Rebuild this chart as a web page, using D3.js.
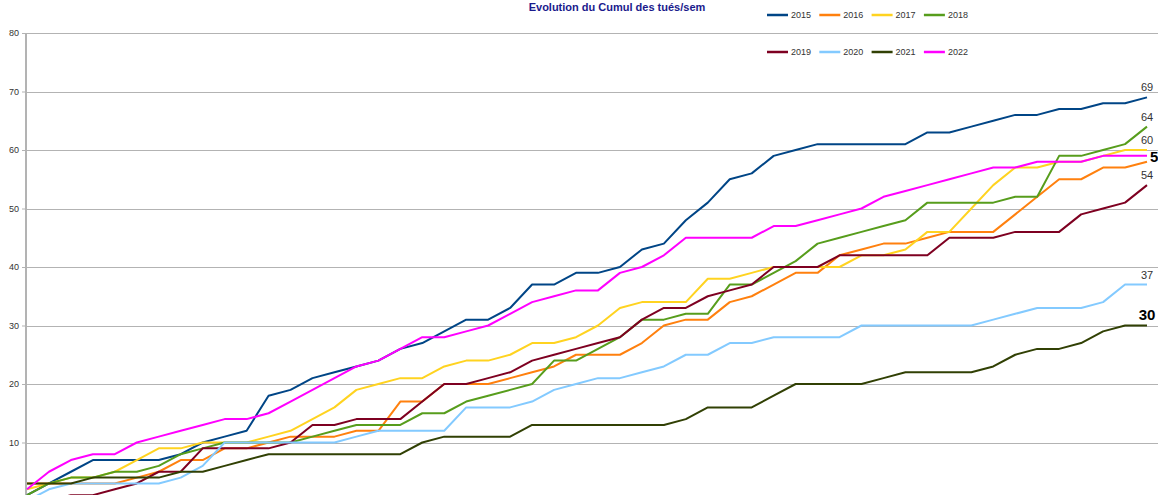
<!DOCTYPE html>
<html>
<head>
<meta charset="utf-8">
<script src="https://cdn.jsdelivr.net/npm/d3@7"></script>
<style>
  body { margin: 0; background: #fff; }
  svg { display: block; font-family: "Liberation Sans", Arial, sans-serif; }
</style>
</head>
<body>
<div id="chart"></div>
<script>
const width = 1158;
const height = 495;

// weekly cumulative counts, weeks 1..52
const weeks = d3.range(1, 53);
const years = ["2015", "2016", "2017", "2018", "2019", "2020", "2021", "2022"];
const colors = ["#004586", "#ff800e", "#ffd320", "#579d1c", "#7e0021", "#83caff", "#314004", "#ff00ff"];

const s2015 = [1, 3, 5, 7, 7, 7, 7, 8, 10, 11, 12, 18, 19, 21, 22, 23, 24, 26, 27, 29, 31, 31, 33, 37, 37, 39,
               39, 40, 43, 44, 48, 51, 55, 56, 59, 60, 61, 61, 61, 61, 61, 63, 63, 64, 65, 66, 66, 67, 67, 68, 68, 69];
const s2016 = [3, 3, 3, 3, 3, 4, 5, 7, 7, 9, 9, 10, 11, 11, 11, 12, 12, 17, 17, 20, 20, 20, 21, 22, 23, 25,
               25, 25, 27, 30, 31, 31, 34, 35, 37, 39, 39, 42, 43, 44, 44, 45, 46, 46, 46, 49, 52, 55, 55, 57, 57, 58];
const s2017 = [2, 3, 4, 4, 5, 7, 9, 9, 10, 10, 10, 11, 12, 14, 16, 19, 20, 21, 21, 23, 24, 24, 25, 27, 27, 28,
               30, 33, 34, 34, 34, 38, 38, 39, 40, 40, 40, 40, 42, 42, 43, 46, 46, 50, 54, 57, 57, 58, 58, 59, 60, 60];
const s2018 = [1, 3, 4, 4, 5, 5, 6, 8, 9, 10, 10, 10, 10, 11, 12, 13, 13, 13, 15, 15, 17, 18, 19, 20, 24, 24,
               26, 28, 31, 31, 32, 32, 37, 37, 39, 41, 44, 45, 46, 47, 48, 51, 51, 51, 51, 52, 52, 59, 59, 60, 61, 64];
const s2019 = [0, 0, 1, 1, 2, 3, 5, 5, 9, 9, 9, 9, 10, 13, 13, 14, 14, 14, 17, 20, 20, 21, 22, 24, 25, 26,
               27, 28, 31, 33, 33, 35, 36, 37, 40, 40, 40, 42, 42, 42, 42, 42, 45, 45, 45, 46, 46, 46, 49, 50, 51, 54];
const s2020 = [0, 2, 3, 3, 3, 3, 3, 4, 6, 10, 10, 10, 10, 10, 10, 11, 12, 12, 12, 12, 16, 16, 16, 17, 19, 20,
               21, 21, 22, 23, 25, 25, 27, 27, 28, 28, 28, 28, 30, 30, 30, 30, 30, 30, 31, 32, 33, 33, 33, 34, 37, 37];
const s2021 = [3, 3, 3, 4, 4, 4, 4, 5, 5, 6, 7, 8, 8, 8, 8, 8, 8, 8, 10, 11, 11, 11, 11, 13, 13, 13,
               13, 13, 13, 13, 14, 16, 16, 16, 18, 20, 20, 20, 20, 21, 22, 22, 22, 22, 23, 25, 26, 26, 27, 29, 30, 30];
const s2022 = [2, 5, 7, 8, 8, 10, 11, 12, 13, 14, 14, 15, 17, 19, 21, 23, 24, 26, 28, 28, 29, 30, 32, 34, 35, 36,
               36, 39, 40, 42, 45, 45, 45, 45, 47, 47, 48, 49, 50, 52, 53, 54, 55, 56, 57, 57, 58, 58, 58, 59, 59, 59];

const seriesValues = [s2015, s2016, s2017, s2018, s2019, s2020, s2021, s2022];
const yTicks = [10, 20, 30, 40, 50, 60, 70, 80];

// end labels: which series get one, and which are bold
const labelled = ["2015", "2017", "2018", "2019", "2020", "2021", "2022"];
const boldLabels = ["2021", "2022"];

const series = years.map((y, i) => ({ year: y, color: colors[i], values: seriesValues[i] }));

const svg = d3.select("#chart").append("svg")
    .attr("width", width)
    .attr("height", height);

const x = d3.scalePoint()
    .domain(weeks)
    .range([27, 1147]);

const y = d3.scaleLinear()
    .domain([0, 80])
    .range([501, 33]);

// grid lines
svg.append("g")
    .selectAll("line")
    .data(yTicks)
    .join("line")
    .attr("x1", 26)
    .attr("x2", width)
    .attr("y1", d => Math.round(y(d)) + 0.5)
    .attr("y2", d => Math.round(y(d)) + 0.5)
    .attr("stroke", "#b3b3b3")
    .attr("stroke-width", 1);

// y axis
const yAxis = svg.append("g")
    .attr("transform", "translate(26,0)")
    .call(d3.axisLeft(y).tickValues(yTicks).tickSize(4).tickPadding(3));
yAxis.select(".domain").attr("stroke", "#b3b3b3").attr("stroke-width", 2)
    .attr("d", `M0,${y(80)}V${height}`);
yAxis.selectAll(".tick line").attr("stroke", "#b3b3b3");
yAxis.selectAll(".tick text")
    .attr("fill", "#333")
    .style("font-size", "9px")
    .style("font-family", "Liberation Sans, Arial, sans-serif");

// lines
const line = d3.line()
    .x((d, i) => x(weeks[i]))
    .y(d => y(d));

svg.append("g")
    .selectAll("path")
    .data(series)
    .join("path")
    .attr("fill", "none")
    .attr("stroke", d => d.color)
    .attr("stroke-width", 2)
    .attr("stroke-linejoin", "round")
    .attr("d", d => line(d.values));

// end labels
const last = weeks.length - 1;
svg.append("g")
    .selectAll("text")
    .data(series.filter(d => labelled.includes(d.year)))
    .join("text")
    .attr("x", d => d.year === "2022" ? x(weeks[last]) + 3 : x(weeks[last]))
    .attr("y", d => d.year === "2022" ? y(d.values[last]) + 6 : y(d.values[last]) - 6)
    .attr("text-anchor", d => d.year === "2022" ? "start" : "middle")
    .attr("fill", d => boldLabels.includes(d.year) ? "#000" : "#333")
    .style("font-size", d => boldLabels.includes(d.year) ? "15px" : "11px")
    .style("font-weight", d => boldLabels.includes(d.year) ? "bold" : "normal")
    .text(d => d.values[last]);

// title
svg.append("text")
    .attr("x", 617)
    .attr("y", 11)
    .attr("text-anchor", "middle")
    .attr("fill", "#1a1a8c")
    .style("font-size", "11px")
    .style("font-weight", "bold")
    .text("Evolution du Cumul des tués/sem");

// legend, two rows of four
const legend = svg.append("g")
    .selectAll("g")
    .data(series)
    .join("g")
    .attr("transform", (d, i) => `translate(${767 + (i % 4) * 52.3},${i < 4 ? 15 : 52})`);

legend.append("line")
    .attr("x1", 0)
    .attr("x2", 21)
    .attr("stroke", d => d.color)
    .attr("stroke-width", 2.5);

legend.append("text")
    .attr("x", 24)
    .attr("y", 3)
    .attr("fill", "#333")
    .style("font-size", "9px")
    .text(d => d.year);
</script>
</body>
</html>
